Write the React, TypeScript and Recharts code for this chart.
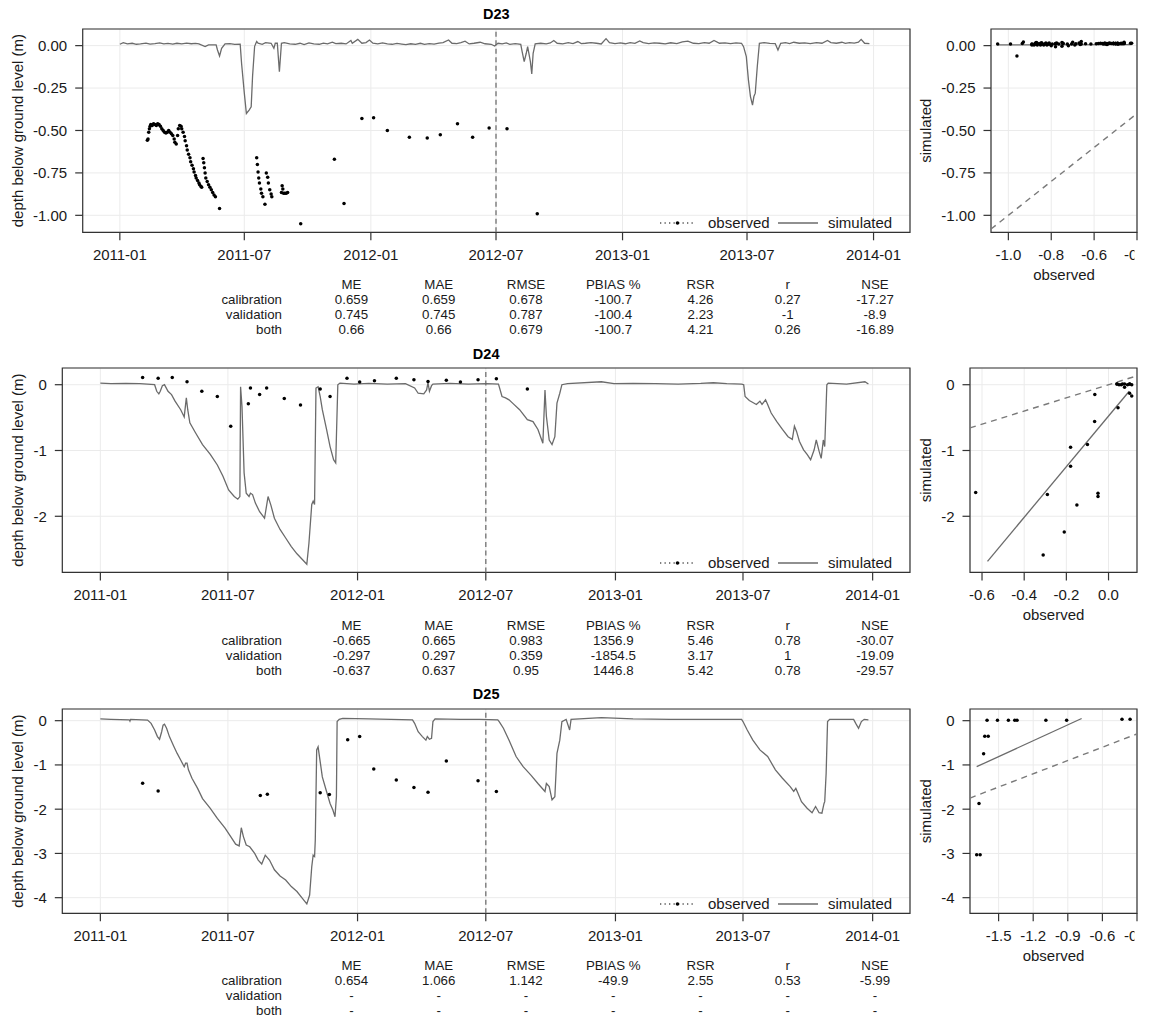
import React from 'react';
import {
  ComposedChart, ScatterChart, Line, Scatter, XAxis, YAxis, CartesianGrid,
  ReferenceLine, ReferenceArea, Legend,
} from 'recharts';

const FONT = '"Liberation Sans", Arial, Helvetica, sans-serif';
const TEXT = '#1a1a1a';

// ---------------- shared time axis ----------------
const tickDates = ['2011-01-01', '2011-07-01', '2012-01-01', '2012-07-01', '2013-01-01', '2013-07-01', '2014-01-01'];
const tickLabels = ['2011-01', '2011-07', '2012-01', '2012-07', '2013-01', '2013-07', '2014-01'];
const splitDate = '2012-07-01';
// days since 2011-01-01 (axis range incl. padding)
const timeDomain = [-54, 1149];

const toDay = (s: string) => {
  const [y, m, d] = s.split('-').map(Number);
  return Math.round((Date.UTC(y, m - 1, d) - Date.UTC(2011, 0, 1)) / 86400000);
};
const tickDays = tickDates.map(toDay);
const splitDay = toDay(splitDate);

// ---------------- statistics tables ----------------
const statHeaders = ['ME', 'MAE', 'RMSE', 'PBIAS %', 'RSR', 'r', 'NSE'];
const statRowNames = ['calibration', 'validation', 'both'];
const d23Stats = [
  ['0.659', '0.659', '0.678', '-100.7', '4.26', '0.27', '-17.27'],
  ['0.745', '0.745', '0.787', '-100.4', '2.23', '-1', '-8.9'],
  ['0.66', '0.66', '0.679', '-100.7', '4.21', '0.26', '-16.89'],
];
const d24Stats = [
  ['-0.665', '0.665', '0.983', '1356.9', '5.46', '0.78', '-30.07'],
  ['-0.297', '0.297', '0.359', '-1854.5', '3.17', '1', '-19.09'],
  ['-0.637', '0.637', '0.95', '1446.8', '5.42', '0.78', '-29.57'],
];
const d25Stats = [
  ['0.654', '1.066', '1.142', '-49.9', '2.55', '0.53', '-5.99'],
  ['-', '-', '-', '-', '-', '-', '-'],
  ['-', '-', '-', '-', '-', '-', '-'],
];

// ---------------- D23 ----------------
// simulated: [day since 2011-01-01, depth (m)]
const d23Simulated: [number, number][] = [
  [0, 0.008], [5, 0.018], [11, 0.010], [18, 0.014], [24, 0.008], [30, 0.010], [38, 0.015], [44, 0.009], [51, 0.012],
  [58, 0.016], [64, 0.010], [70, 0.013], [77, 0.009], [83, 0.014], [90, 0.010], [97, 0.015], [104, 0.011], [110, 0.013],
  [115, 0.010], [124, -0.006], [129, 0.004], [140, 0.004], [142, -0.026], [145, -0.061], [148, -0.016], [153, 0.010],
  [160, 0.012], [167, 0.007], [175, 0.008], [177, -0.104], [181, -0.28], [184, -0.40], [188, -0.38], [191, -0.36],
  [193, -0.18], [196, -0.004], [199, 0.024], [201, 0.014], [207, 0.008], [212, 0.018], [220, 0.014], [224, -0.016],
  [226, 0.014], [229, 0.014], [232, -0.154], [235, 0.014], [239, 0.018], [247, 0.010], [255, 0.008], [262, 0.014],
  [268, 0.006], [275, 0.016], [282, 0.010], [290, 0.008], [296, 0.015], [302, 0.010], [309, 0.020], [314, 0.012],
  [322, 0.014], [329, 0.010], [336, 0.030], [338, 0.014], [346, 0.037], [352, 0.014], [358, 0.018], [363, 0.033],
  [368, 0.014], [375, 0.010], [382, 0.016], [389, 0.010], [396, 0.008], [403, 0.013], [410, 0.009], [416, 0.006],
  [423, 0.011], [430, 0.008], [437, 0.014], [443, 0.008], [450, 0.012], [457, 0.009], [464, 0.015], [470, 0.018],
  [478, 0.033], [483, 0.014], [490, 0.012], [496, 0.018], [502, 0.026], [508, 0.010], [515, 0.014], [524, 0.020],
  [531, 0.011], [540, 0.008], [545, -0.002], [550, 0.014], [556, 0.010], [562, 0.016], [567, 0.008], [575, 0.012],
  [583, 0.008], [585, -0.035], [588, -0.094], [591, -0.045], [593, -0.006], [597, -0.094], [599, -0.167],
  [601, -0.045], [604, 0.010], [612, 0.014], [620, 0.010], [626, 0.016], [631, 0.030], [636, 0.014], [644, 0.010],
  [652, 0.018], [659, 0.012], [666, 0.024], [671, 0.012], [677, 0.014], [685, 0.018], [693, 0.014], [700, 0.010],
  [707, 0.041], [712, 0.018], [720, 0.012], [728, 0.016], [735, 0.011], [742, 0.018], [749, 0.013], [756, 0.028],
  [761, 0.018], [769, 0.012], [777, 0.016], [785, 0.014], [793, 0.010], [801, 0.017], [810, 0.012], [818, 0.022],
  [826, 0.026], [834, 0.014], [842, 0.012], [850, 0.018], [857, 0.014], [864, 0.030], [872, 0.014], [880, 0.016],
  [888, 0.012], [896, 0.016], [904, 0.014], [907, -0.006], [911, -0.065], [914, -0.20], [917, -0.30], [920, -0.35],
  [922, -0.30], [924, -0.28], [927, -0.12], [930, 0.014], [937, 0.018], [945, 0.013], [953, 0.012], [957, -0.026],
  [961, 0.014], [968, 0.018], [974, 0.012], [980, 0.020], [988, 0.014], [996, 0.016], [1004, 0.012], [1013, 0.018],
  [1021, 0.014], [1029, 0.030], [1034, 0.018], [1042, 0.014], [1050, 0.020], [1055, 0.013], [1061, 0.018],
  [1068, 0.015], [1074, 0.020], [1078, 0.037], [1083, 0.014], [1090, 0.012],
];
// observed: [day, observed depth, simulated depth on that day]
const d23Observed: [number, number, number][] = [
  [40, -0.557, 0.010], [41, -0.550, 0.011], [42, -0.510, 0.012], [43, -0.490, 0.011], [44, -0.475, 0.012],
  [45, -0.465, 0.012], [47, -0.470, 0.013], [49, -0.460, 0.012], [51, -0.465, 0.012], [53, -0.470, 0.013],
  [55, -0.460, 0.013], [57, -0.465, 0.012], [59, -0.475, 0.013], [61, -0.490, 0.014], [63, -0.500, 0.013],
  [65, -0.510, 0.012], [67, -0.515, 0.013], [69, -0.510, 0.014], [71, -0.500, 0.014], [73, -0.510, 0.013],
  [75, -0.520, 0.012], [77, -0.530, 0.014], [79, -0.550, 0.015], [80, -0.570, 0.014], [82, -0.580, 0.013],
  [84, -0.530, 0.014], [85, -0.490, 0.014], [87, -0.470, 0.013], [89, -0.475, 0.012], [90, -0.490, 0.013],
  [92, -0.510, 0.012], [94, -0.535, 0.011], [95, -0.560, 0.012], [97, -0.590, 0.011], [98, -0.615, 0.010],
  [100, -0.640, 0.011], [102, -0.660, 0.010], [103, -0.685, 0.011], [105, -0.705, 0.010], [107, -0.725, 0.010],
  [108, -0.745, 0.011], [110, -0.765, 0.010], [111, -0.780, 0.010], [113, -0.795, 0.009], [115, -0.810, 0.010],
  [116, -0.820, 0.010], [118, -0.830, 0.009], [119, -0.835, 0.008],
  [121, -0.665, 0.006], [122, -0.690, 0.004], [123, -0.720, 0.000], [124, -0.750, -0.004], [125, -0.780, -0.006],
  [127, -0.800, 0.000], [129, -0.820, 0.004], [131, -0.835, 0.004], [133, -0.850, 0.004], [135, -0.865, 0.004],
  [137, -0.880, 0.004], [139, -0.890, 0.004], [145, -0.960, -0.061],
  [199, -0.660, 0.024], [200, -0.700, 0.020], [201, -0.745, 0.014], [202, -0.780, 0.012], [203, -0.810, 0.010],
  [205, -0.845, 0.009], [206, -0.870, 0.008], [208, -0.890, 0.009], [211, -0.935, 0.012],
  [213, -0.750, 0.018], [215, -0.775, 0.016], [216, -0.810, 0.015], [218, -0.850, 0.014], [220, -0.875, 0.014],
  [221, -0.890, 0.008],
  [235, -0.865, 0.014], [236, -0.825, 0.016], [237, -0.845, 0.017], [238, -0.870, 0.018], [240, -0.870, 0.016],
  [242, -0.870, 0.014], [244, -0.865, 0.012],
  [263, -1.050, 0.009], [312, -0.670, 0.016], [326, -0.930, 0.022], [352, -0.430, 0.014], [369, -0.425, 0.014],
  [389, -0.500, 0.010], [421, -0.540, 0.007], [447, -0.545, 0.009], [466, -0.525, 0.014], [491, -0.460, 0.020],
  [513, -0.540, 0.012], [537, -0.485, 0.010], [563, -0.490, 0.009], [607, -0.990, 0.010],
];
const d23YDomain = [-1.10, 0.098];
const d23YTicks = [0, -0.25, -0.5, -0.75, -1];
const d23ObsDomain = [-1.081, -0.40];
const d23ObsTicks = [-1.0, -0.8, -0.6, -0.4];
const d23Fit = [{ x: -1.05, y: 0.004 }, { x: -0.425, y: 0.006 }];

// ---------------- D24 ----------------
const d24Simulated: [number, number][] = [
  [0, 0.025], [15, 0.015], [36, 0.02], [56, 0.015], [77, 0.0], [80, -0.10], [83, -0.14], [85, -0.10], [88, -0.015],
  [91, 0.0], [96, -0.10], [101, -0.15], [106, -0.25], [114, -0.38], [119, -0.49], [122, -0.20], [124, -0.38],
  [127, -0.58], [135, -0.73], [145, -0.91], [156, -1.06], [166, -1.22], [174, -1.39], [182, -1.60], [190, -1.70],
  [195, -1.74], [198, -1.70], [199, -0.03], [201, -0.33], [204, -1.34], [207, -1.65], [211, -1.70], [213, -1.65],
  [216, -1.67], [220, -1.80], [226, -1.93], [233, -2.03], [238, -1.70], [242, -1.83], [247, -2.03], [255, -2.20],
  [263, -2.33], [271, -2.46], [279, -2.57], [287, -2.66], [293, -2.73], [296, -2.41], [300, -1.82], [302, -1.77],
  [304, -1.82], [306, -0.05], [309, -0.03], [312, -0.18], [315, -0.38], [321, -0.68], [326, -0.94], [331, -1.14],
  [334, -1.19], [335, -0.79], [337, 0.0], [340, 0.025], [360, 0.01], [381, 0.02], [407, 0.01], [433, 0.015],
  [446, -0.05], [451, -0.13], [459, -0.14], [463, -0.08], [465, 0.03], [467, -0.10], [470, -0.015], [472, 0.01],
  [496, 0.02], [522, 0.01], [548, 0.015], [565, 0.01], [570, -0.18], [575, -0.20], [580, -0.23], [585, -0.28],
  [595, -0.38], [606, -0.53], [614, -0.56], [621, -0.68], [628, -0.89], [631, -0.08], [633, -0.48], [637, -0.84],
  [641, -0.91], [645, -0.79], [648, -0.28], [652, -0.13], [655, 0.0], [663, 0.015], [711, 0.045], [729, 0.015],
  [756, 0.02], [788, 0.015], [820, 0.01], [852, 0.02], [870, 0.03], [889, 0.015], [910, 0.01], [913, 0.0],
  [915, -0.18], [921, -0.24], [926, -0.27], [931, -0.30], [936, -0.25], [939, -0.30], [944, -0.23], [947, -0.30],
  [952, -0.43], [960, -0.56], [968, -0.68], [976, -0.79], [982, -0.83], [985, -0.63], [988, -0.71], [992, -0.86],
  [998, -0.99], [1003, -1.06], [1008, -1.14], [1013, -0.99], [1016, -0.84], [1020, -1.01], [1023, -1.12],
  [1026, -0.84], [1028, -0.94], [1031, 0.0], [1033, 0.025], [1059, 0.01], [1085, 0.045], [1090, 0.01],
];
const d24Observed: [number, number, number][] = [
  [60, 0.11, 0.00], [82, 0.10, -0.13], [102, 0.11, -0.17], [123, 0.045, -0.35], [144, -0.10, -0.91],
  [166, -0.18, -1.24], [185, -0.63, -1.64], [210, -0.29, -1.67], [213, -0.05, -1.65], [226, -0.15, -1.83],
  [236, -0.05, -1.70], [261, -0.21, -2.24], [284, -0.31, -2.59], [312, -0.065, -0.15], [326, -0.18, -0.95],
  [350, 0.10, 0.01], [368, 0.04, 0.01], [389, 0.06, 0.00], [420, 0.10, 0.01], [445, 0.076, -0.04],
  [465, 0.05, 0.00], [491, 0.066, 0.01], [511, 0.04, 0.01], [536, 0.076, 0.01], [562, 0.09, 0.00],
  [606, -0.066, -0.56],
];
const d24YDomain = [-2.853, 0.254];
const d24YTicks = [0, -1, -2];
const d24ObsDomain = [-0.657, 0.135];
const d24ObsTicks = [-0.6, -0.4, -0.2, 0.0];
const d24Fit = [{ x: -0.574, y: -2.685 }, { x: 0.098, y: -0.10 }];

// ---------------- D25 ----------------
const d25Simulated: [number, number][] = [
  [0, 0.04], [15, 0.03], [41, 0.02], [42, -0.01], [43, 0.03], [67, 0.015], [72, -0.06], [77, -0.21], [81, -0.36],
  [84, -0.42], [87, -0.25], [89, -0.10], [91, -0.08], [94, -0.17], [98, -0.36], [104, -0.57], [109, -0.74],
  [114, -0.89], [119, -1.04], [121, -0.96], [123, -0.96], [125, -1.11], [130, -1.30], [138, -1.53], [145, -1.76],
  [156, -1.98], [166, -2.21], [177, -2.43], [185, -2.62], [192, -2.79], [197, -2.83], [200, -2.42], [203, -2.62],
  [207, -2.81], [212, -2.85], [219, -3.00], [224, -3.15], [229, -3.24], [234, -3.04], [240, -3.15], [247, -3.37],
  [255, -3.51], [263, -3.60], [271, -3.75], [279, -3.86], [287, -4.02], [293, -4.14], [297, -3.94], [300, -3.30],
  [302, -3.04], [304, -3.07], [305, -2.70], [307, -0.66], [309, -0.59], [312, -0.93], [315, -1.27], [321, -1.60],
  [326, -1.87], [330, -2.02], [333, -2.17], [335, -1.72], [336, -0.02], [339, 0.03], [344, 0.05], [381, 0.04],
  [412, 0.03], [443, 0.02], [446, -0.06], [451, -0.25], [457, -0.36], [462, -0.44], [464, -0.36], [467, -0.42],
  [470, -0.40], [472, -0.02], [475, 0.04], [511, 0.03], [538, 0.03], [564, 0.02], [566, -0.02], [572, -0.17],
  [580, -0.44], [590, -0.81], [600, -1.04], [611, -1.23], [621, -1.42], [631, -1.60], [633, -1.42], [637, -1.49],
  [641, -1.79], [645, -1.72], [648, -0.74], [652, -0.44], [655, -0.02], [661, 0.03], [666, -0.21], [668, 0.03],
  [711, 0.07], [756, 0.04], [809, 0.03], [862, 0.03], [910, 0.03], [912, -0.02], [918, -0.21], [926, -0.44],
  [936, -0.66], [947, -0.81], [958, -1.11], [968, -1.30], [979, -1.49], [984, -1.60], [987, -1.53], [990, -1.64],
  [995, -1.83], [1003, -1.98], [1010, -2.08], [1015, -1.94], [1020, -2.08], [1024, -2.09], [1027, -1.87],
  [1028, -1.83], [1030, -1.19], [1032, -0.02], [1035, 0.03], [1069, 0.03], [1072, -0.06], [1076, -0.17],
  [1080, -0.02], [1084, 0.03], [1090, 0.02],
];
const d25Observed: [number, number, number][] = [
  [60, -1.415, 0.01], [82, -1.59, -0.35], [227, -1.69, -3.03], [237, -1.66, -3.03], [312, -1.63, -0.75],
  [325, -1.67, -1.87], [351, -0.43, 0.03], [368, -0.36, 0.03], [388, -1.09, 0.01], [420, -1.34, 0.01],
  [445, -1.51, 0.01], [465, -1.62, -0.35], [491, -0.91, 0.01], [536, -1.36, 0.01], [562, -1.60, 0.01],
];
const d25YDomain = [-4.353, 0.264];
const d25YTicks = [0, -1, -2, -3, -4];
const d25ObsDomain = [-1.748, -0.30];
const d25ObsTicks = [-1.5, -1.2, -0.9, -0.6, -0.3];
const d25Fit = [{ x: -1.69, y: -1.04 }, { x: -0.78, y: 0.05 }];

// ---------------- assemble ----------------
const stations = [
  { name: 'D23', sim: d23Simulated, obs: d23Observed, stats: d23Stats, yDomain: d23YDomain, yTicks: d23YTicks, yDigits: 2, xDomain: d23ObsDomain, xTicks: d23ObsTicks, fit: d23Fit },
  { name: 'D24', sim: d24Simulated, obs: d24Observed, stats: d24Stats, yDomain: d24YDomain, yTicks: d24YTicks, yDigits: 0, xDomain: d24ObsDomain, xTicks: d24ObsTicks, fit: d24Fit },
  { name: 'D25', sim: d25Simulated, obs: d25Observed, stats: d25Stats, yDomain: d25YDomain, yTicks: d25YTicks, yDigits: 0, xDomain: d25ObsDomain, xTicks: d25ObsTicks, fit: d25Fit },
];

// ---------------- layout (pixels) ----------------
const layout = [
  { boxTop: 29, boxBottom: 232.3, tsLeft: 82.7, scLeft: 991 },
  { boxTop: 368.3, boxBottom: 572.7, tsLeft: 62.3, scLeft: 970 },
  { boxTop: 709, boxBottom: 913.3, tsLeft: 62.3, scLeft: 970 },
];
const TS_RIGHT = 910;
const SC_RIGHT = 1137;
const SC_CHART_LEFT = 880;
const TOP_PAD = 20;
const X_AXIS_H = 70;
const statColX = [351.5, 438.75, 526, 613.25, 700.5, 787.75, 875];
const statLabelX = 282;
const TABLE_FONT = 13.3;
const TABLE_ROW = 15;

const tickStyle = { fontSize: 15, fill: TEXT, fontFamily: FONT };

const DotShape = (props: any) => {
  const { cx, cy } = props;
  if (cx == null || cy == null || isNaN(cx) || isNaN(cy)) return <g />;
  return <circle cx={cx} cy={cy} r={1.75} fill="#000" />;
};

const SeriesLegend = () => (
  <svg width={262} height={20} style={{ display: 'block', overflow: 'visible' }}>
    <line x1={10} x2={45} y1={10} y2={10} stroke="#555" strokeWidth={1.3} strokeDasharray="1.3 3.2" />
    <circle cx={27.5} cy={10} r={1.8} fill="#000" />
    <text x={58} y={15.3} fontSize={15} fontFamily={FONT} fill={TEXT}>observed</text>
    <line x1={128} x2={168} y1={10} y2={10} stroke="#6b6b6b" strokeWidth={1.3} />
    <text x={178} y={15.3} fontSize={15} fontFamily={FONT} fill={TEXT}>simulated</text>
  </svg>
);

function TimeSeriesPanel({ st, lay }: any) {
  const plotH = lay.boxBottom - lay.boxTop;
  const height = plotH + TOP_PAD + X_AXIS_H;
  const width = TS_RIGHT + 20;
  const chartTop = lay.boxTop - TOP_PAD;
  const simData = st.sim.map(([d, v]: number[]) => ({ day: d, v }));
  const obsData = st.obs.map(([d, v]: number[]) => ({ day: d, v }));
  const fmtY = (v: number) => v.toFixed(st.yDigits);
  return (
    <div style={{ position: 'absolute', left: 0, top: chartTop, width, height }}>
      <ComposedChart width={width} height={height} margin={{ top: TOP_PAD, right: width - TS_RIGHT, bottom: 0, left: 0 }}>
        <CartesianGrid stroke="#ebebeb" strokeWidth={1} />
        <XAxis
          type="number" dataKey="day" domain={timeDomain} ticks={tickDays} allowDataOverflow interval={0}
          tickFormatter={(v: number) => tickLabels[tickDays.indexOf(v)]}
          height={X_AXIS_H} tickSize={8} tickMargin={9} axisLine={false}
          tickLine={{ stroke: '#333', strokeWidth: 1.2 }} tick={tickStyle}
        />
        <YAxis
          type="number" dataKey="v" domain={st.yDomain} ticks={st.yTicks} allowDataOverflow interval={0}
          tickFormatter={fmtY} width={lay.tsLeft} tickSize={7.5} tickMargin={8} axisLine={false}
          tickLine={{ stroke: '#333', strokeWidth: 1.2 }} tick={tickStyle}
          label={{ value: 'depth below ground level (m)', angle: -90, position: 'insideLeft', offset: 18, fill: TEXT, fontSize: 15, fontFamily: FONT, style: { textAnchor: 'middle' } }}
        />
        <ReferenceLine x={splitDay} stroke="#7a7a7a" strokeWidth={1.4} strokeDasharray="5 3.5" />
        <Line data={simData} dataKey="v" type="linear" stroke="#6b6b6b" strokeWidth={1.3} dot={false} isAnimationActive={false} />
        <Scatter data={obsData} dataKey="v" shape={DotShape} isAnimationActive={false} />
        <ReferenceArea x1={timeDomain[0]} x2={timeDomain[1]} y1={st.yDomain[0]} y2={st.yDomain[1]} fill="none" fillOpacity={0} stroke="#333" strokeWidth={1.2} ifOverflow="visible" />
        <Legend
          layout="horizontal" verticalAlign="middle" align="center"
          content={() => <SeriesLegend />}
          wrapperStyle={{ position: 'absolute', left: 650, top: TOP_PAD + plotH - 9.5 - 10, width: 262, height: 20, margin: 0, padding: 0 }}
        />
      </ComposedChart>
    </div>
  );
}

function ScatterPanel({ st, lay, idx }: any) {
  const plotH = lay.boxBottom - lay.boxTop;
  const height = plotH + TOP_PAD + X_AXIS_H;
  const width = 1149 - SC_CHART_LEFT;
  const chartTop = lay.boxTop - TOP_PAD;
  const pairs = st.obs.map(([, o, s]: number[]) => ({ x: o, y: s }));
  const fmtX = (v: number) => v.toFixed(1);
  const fmtY = (v: number) => v.toFixed(st.yDigits);
  const clipRight = SC_RIGHT - SC_CHART_LEFT - 2.5;
  const renderXTick = (p: any) => {
    const id = `sc-clip-${idx}-${p.index}`;
    return (
      <g>
        <defs>
          <clipPath id={id}>
            <rect x={p.x - 60} y={p.y - 5} width={clipRight - (p.x - 60)} height={40} />
          </clipPath>
        </defs>
        <text x={p.x} y={p.y} dy="0.71em" textAnchor="middle" fontSize={15} fontFamily={FONT} fill={TEXT} clipPath={`url(#${id})`}>
          {fmtX(p.payload.value)}
        </text>
      </g>
    );
  };
  const [x0, x1] = st.xDomain;
  return (
    <div style={{ position: 'absolute', left: SC_CHART_LEFT, top: chartTop, width, height }}>
      <ScatterChart width={width} height={height} margin={{ top: TOP_PAD, right: 1149 - SC_RIGHT, bottom: 0, left: 0 }}>
        <CartesianGrid stroke="#ebebeb" strokeWidth={1} />
        <XAxis
          type="number" dataKey="x" domain={st.xDomain} ticks={st.xTicks} allowDataOverflow interval={0}
          height={X_AXIS_H} tickSize={8} tickMargin={9} axisLine={false}
          tickLine={{ stroke: '#333', strokeWidth: 1.2 }} tick={renderXTick}
          label={{ value: 'observed', position: 'insideTop', offset: 37, fill: TEXT, fontSize: 15, fontFamily: FONT }}
        />
        <YAxis
          type="number" dataKey="y" domain={st.yDomain} ticks={st.yTicks} allowDataOverflow interval={0}
          tickFormatter={fmtY} width={lay.scLeft - SC_CHART_LEFT} tickSize={7.5} tickMargin={8} axisLine={false}
          tickLine={{ stroke: '#333', strokeWidth: 1.2 }} tick={tickStyle}
          label={{ value: 'simulated', angle: -90, position: 'insideLeft', offset: 46, fill: TEXT, fontSize: 15, fontFamily: FONT, style: { textAnchor: 'middle' } }}
        />
        <ReferenceLine segment={[{ x: x0, y: x0 }, { x: x1, y: x1 }]} stroke="#7a7a7a" strokeWidth={1.4} strokeDasharray="6 5" />
        <ReferenceLine segment={st.fit} stroke="#6b6b6b" strokeWidth={1.3} />
        <Scatter data={pairs} shape={DotShape} isAnimationActive={false} />
        <ReferenceArea x1={x0} x2={x1} y1={st.yDomain[0]} y2={st.yDomain[1]} fill="none" fillOpacity={0} stroke="#333" strokeWidth={1.2} ifOverflow="visible" />
      </ScatterChart>
    </div>
  );
}

function Annotations({ st, lay }: any) {
  const titleX = (lay.tsLeft + TS_RIGHT) / 2;
  const headerY = lay.boxBottom + 52.3;
  const t = { fontSize: TABLE_FONT, fontFamily: FONT, fill: TEXT };
  const base = TABLE_FONT * 0.36;
  return (
    <g>
      <text x={titleX} y={lay.boxTop - 15 + 5.3} textAnchor="middle" fontWeight="bold" fontSize={14.5} fontFamily={FONT} fill="#000">{st.name}</text>
      {statHeaders.map((h, j) => (
        <text key={h} x={statColX[j]} y={headerY + base} textAnchor="middle" {...t}>{h}</text>
      ))}
      {statRowNames.map((r, i) => (
        <g key={r}>
          <text x={statLabelX} y={headerY + TABLE_ROW * (i + 1) + base} textAnchor="end" {...t}>{r}</text>
          {st.stats[i].map((v: string, j: number) => (
            <text key={j} x={statColX[j]} y={headerY + TABLE_ROW * (i + 1) + base} textAnchor="middle" {...t}>{v}</text>
          ))}
        </g>
      ))}
    </g>
  );
}

export default function App() {
  return (
    <div style={{ position: 'absolute', left: 0, top: 0, width: 1149, height: 1021, background: '#fff', overflow: 'hidden', fontFamily: FONT }}>
      {stations.map((st, i) => (
        <React.Fragment key={st.name}>
          <TimeSeriesPanel st={st} lay={layout[i]} />
          <ScatterPanel st={st} lay={layout[i]} idx={i} />
        </React.Fragment>
      ))}
      <svg width={1149} height={1021} style={{ position: 'absolute', left: 0, top: 0, pointerEvents: 'none' }}>
        {stations.map((st, i) => (
          <Annotations key={st.name} st={st} lay={layout[i]} />
        ))}
      </svg>
    </div>
  );
}
